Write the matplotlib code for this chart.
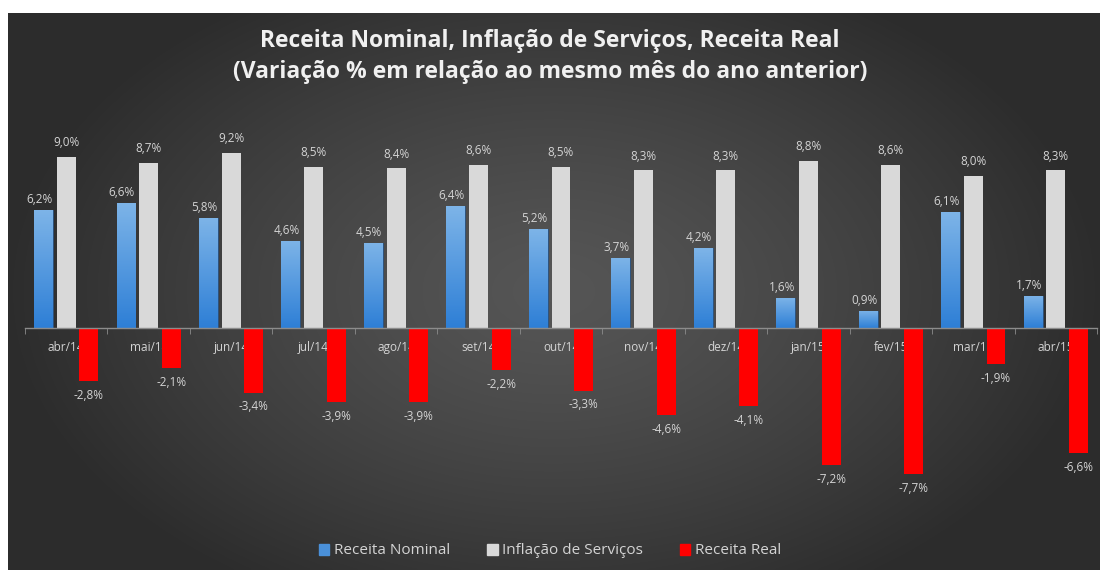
import numpy as np
import matplotlib.pyplot as plt
from matplotlib.colors import LinearSegmentedColormap
from matplotlib.patches import Patch

meses = ["abr/14", "mai/14", "jun/14", "jul/14", "ago/14", "set/14", "out/14",
         "nov/14", "dez/14", "jan/15", "fev/15", "mar/15", "abr/15"]
receita_nominal = [6.2, 6.6, 5.8, 4.6, 4.5, 6.4, 5.2, 3.7, 4.2, 1.6, 0.9, 6.1, 1.7]
inflacao_servicos = [9.0, 8.7, 9.2, 8.5, 8.4, 8.6, 8.5, 8.3, 8.3, 8.8, 8.6, 8.0, 8.3]
receita_real = [-2.8, -2.1, -3.4, -3.9, -3.9, -2.2, -3.3, -4.6, -4.1, -7.2, -7.7, -1.9, -6.6]

FONT = ["Open Sans", "DejaVu Sans"]
TXT = "#d4d4d4"


def fmt(v):
    return f"{v:.1f}%".replace(".", ",")


def main():
    plt.rcParams["font.family"] = FONT
    fig = plt.figure(figsize=(11, 5.7), dpi=100, facecolor="white")

    # fundo escuro com gradiente radial
    bg = fig.add_axes([8 / 1100, 0, 1092 / 1100, 557 / 570], zorder=-1)
    xx, yy = np.meshgrid(np.linspace(-1, 1, 400), np.linspace(-1, 1, 220))
    r = np.clip(np.sqrt(xx ** 2 + (0.8 * yy) ** 2), 0, 1)
    shade = 0.335 - 0.16 * r ** 1.3
    bg.imshow(np.dstack([shade] * 3), aspect="auto", extent=[0, 1, 0, 1],
              interpolation="bilinear")
    bg.axis("off")

    ax = fig.add_axes([25 / 1100, 60 / 570, 1072 / 1100, 375 / 570])
    ax.patch.set_alpha(0)
    x = np.arange(len(meses))
    w = 0.23
    off = 0.275

    b1 = ax.bar(x - off, receita_nominal, w, color="#4a90d9", edgecolor="#2a4f7a",
                linewidth=0.6, zorder=2)
    # gradiente nas barras azuis
    grad = np.linspace(0, 1, 100).reshape(-1, 1)
    cmap = LinearSegmentedColormap.from_list("azul", ["#2e7fd6", "#7db4e8"])
    for bar in b1:
        bx, by = bar.get_x(), bar.get_y()
        bw, bh = bar.get_width(), bar.get_height()
        im = ax.imshow(grad, extent=[bx, bx + bw, by, by + bh], aspect="auto",
                       cmap=cmap, origin="lower", zorder=2.1)
        im.set_clip_path(bar)
    ax.bar(x, inflacao_servicos, w, color="#d9d9d9", zorder=2)
    ax.bar(x + off, receita_real, w, color="#ff0000", zorder=2)

    for i in range(len(meses)):
        ax.text(x[i] - off - 0.05, receita_nominal[i] + 0.55, fmt(receita_nominal[i]),
                ha="center", va="center", fontsize=8.5, color=TXT, zorder=3)
        ax.text(x[i], inflacao_servicos[i] + 0.75, fmt(inflacao_servicos[i]),
                ha="center", va="center", fontsize=8.5, color=TXT, zorder=3)
        ax.text(x[i] + off, receita_real[i] - 0.75, fmt(receita_real[i]),
                ha="center", va="center", fontsize=8.5, color=TXT, zorder=3)

    ax.set_xlim(-0.5, len(meses) - 0.5)
    ax.set_ylim(-9.58, 10.16)
    for s in ["top", "right", "left"]:
        ax.spines[s].set_visible(False)
    ax.spines["bottom"].set_position(("data", 0))
    ax.spines["bottom"].set_color("#8c8c8c")
    ax.spines["bottom"].set_linewidth(1.0)
    ax.set_axisbelow(True)
    ax.set_yticks([])
    ax.set_xticks(x)
    ax.set_xticklabels(meses)
    ax.set_xticks(np.arange(-0.5, len(meses)), minor=True)
    ax.tick_params(axis="x", which="major", length=0, pad=9, labelsize=8.5,
                   labelcolor=TXT)
    ax.tick_params(axis="x", which="minor", length=4, color="#8c8c8c", direction="out")

    fig.text(0.5, 1 - 41 / 570, "Receita Nominal, Inflação de Serviços, Receita Real",
             ha="center", va="center", fontsize=16.5, fontweight="bold", color="#f0f0f0")
    fig.text(0.5, 1 - 72 / 570, "(Variação % em relação ao mesmo mês do ano anterior)",
             ha="center", va="center", fontsize=16.5, fontweight="bold", color="#f0f0f0")

    handles = [Patch(color="#4a90d9", label="Receita Nominal"),
               Patch(color="#d9d9d9", label="Inflação de Serviços"),
               Patch(color="#ff0000", label="Receita Real")]
    fig.legend(handles=handles, loc="center", bbox_to_anchor=(0.5, 1 - 551 / 570),
               ncol=3, frameon=False, fontsize=11, labelcolor=TXT,
               handlelength=0.7, handleheight=0.7, handletextpad=0.3, columnspacing=2.4)

    fig.savefig("out.png", dpi=100, facecolor=fig.get_facecolor())


if __name__ == "__main__":
    main()
